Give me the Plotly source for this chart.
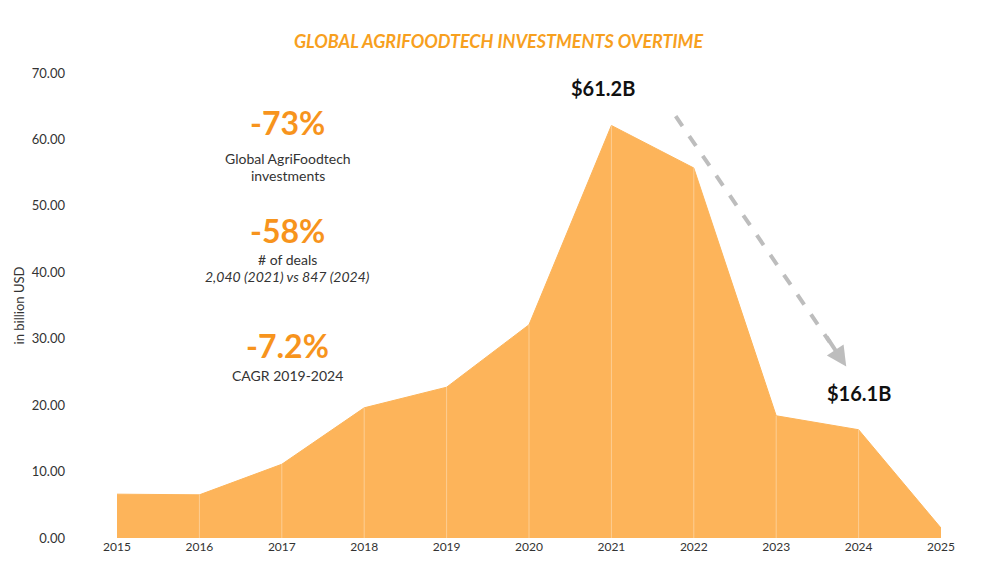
import plotly.graph_objects as go

years = [2015, 2016, 2017, 2018, 2019, 2020, 2021, 2022, 2023, 2024, 2025]
values = [6.6, 6.5, 11.1, 19.6, 22.7, 32.1, 62.1, 55.7, 18.4, 16.3, 1.5]
ticks_y = [0, 10, 20, 30, 40, 50, 60, 70]

fig = go.Figure(go.Scatter(x=years, y=values, mode="lines", fill="tozeroy",
                           line=dict(color="#fcb45a", width=1), fillcolor="#fdb45a"))
for yr in years[1:-1]:
    fig.add_shape(type="line", x0=yr, x1=yr, y0=0, y1=values[years.index(yr)],
                  line=dict(color="rgba(255,255,255,0.35)", width=1))

F = "Lato"
cx = 2017.07
ann = [
    dict(x=cx, y=62.5, text="<b>-73%</b>", size=32, color="#f7941d"),
    dict(x=cx, y=57.2, text="Global AgriFoodtech", size=14, color="#333"),
    dict(x=cx, y=54.5, text="investments", size=14, color="#333"),
    dict(x=cx, y=46.3, text="<b>-58%</b>", size=32, color="#f7941d"),
    dict(x=cx, y=42.0, text="# of deals", size=14, color="#333"),
    dict(x=cx, y=39.4, text="<i>2,040 (2021) vs 847 (2024)</i>", size=14, color="#333"),
    dict(x=cx, y=29.0, text="<b>-7.2%</b>", size=32, color="#f7941d"),
    dict(x=cx, y=24.4, text="CAGR 2019-2024", size=14, color="#333"),
    dict(x=2020.9, y=67.8, text="<b>$61.2B</b>", size=20, color="#111"),
    dict(x=2024.0, y=21.8, text="<b>$16.1B</b>", size=20, color="#111"),
]
annotations = [dict(x=a["x"], y=a["y"], text=a["text"], showarrow=False, xref="x", yref="y",
                    font=dict(family=F, size=a["size"], color=a["color"])) for a in ann]
annotations.append(dict(x=2023.85, y=25.8, ax=2023.6, ay=30.5, xref="x", yref="y", axref="x", ayref="y",
                        showarrow=True, arrowhead=2, arrowsize=1, arrowwidth=4, arrowcolor="#bdbdbd", text=""))
fig.add_shape(type="line", x0=2021.78, y0=63.5, x1=2023.65, y1=29.5, line=dict(color="#bdbdbd", width=4, dash="dash"))
fig.update_layout(annotations=annotations)

fig.update_layout(
    width=981, height=569, plot_bgcolor="white", paper_bgcolor="white",
    margin=dict(l=109, r=48, t=65, b=39, autoexpand=False),
    title=dict(text="<b><i>GLOBAL AGRIFOODTECH INVESTMENTS OVERTIME</i></b>", x=0.5, y=0.94, xanchor="center", yanchor="middle",
               font=dict(family=F, size=18, color="#f7a01e")),
    xaxis=dict(range=[2015, 2025], tickvals=years, showgrid=False, zeroline=False, showline=False, automargin=False,
               tickfont=dict(family=F, size=12, color="#333")),
    yaxis=dict(range=[0, 70], tickvals=ticks_y, ticktext=[f"{v:.2f}" for v in ticks_y], showgrid=False, automargin=False,
               zeroline=False, ticklabelstandoff=51, title=dict(text="in billion USD", font=dict(family=F, size=13, color="#333"), standoff=4),
               tickfont=dict(family=F, size=13, color="#333")),
    showlegend=False,
)
fig.write_html("out.html")
